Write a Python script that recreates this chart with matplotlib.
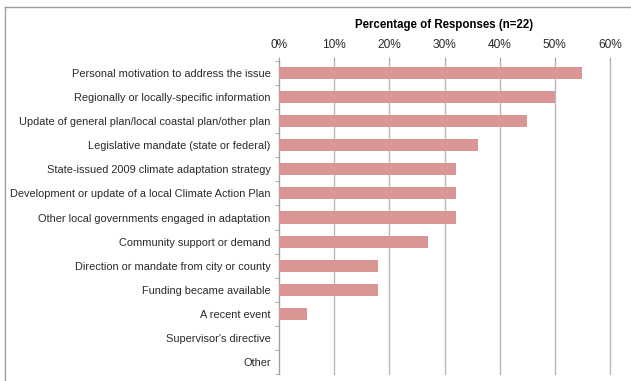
import matplotlib
matplotlib.use("Agg")
import matplotlib.pyplot as plt
import numpy as np

# survey answers, top to bottom
labels = [
    "Personal motivation to address the issue",
    "Regionally or locally-specific information",
    "Update of general plan/local coastal plan/other plan",
    "Legislative mandate (state or federal)",
    "State-issued 2009 climate adaptation strategy",
    "Development or update of a local Climate Action Plan",
    "Other local governments engaged in adaptation",
    "Community support or demand",
    "Direction or mandate from city or county",
    "Funding became available",
    "A recent event",
    "Supervisor's directive",
    "Other",
]
pct = [55, 50, 45, 36, 32, 32, 32, 27, 18, 18, 5, 0, 0]
xticks = [0, 10, 20, 30, 40, 50, 60]

plt.rcParams['font.family'] = ['Liberation Sans', 'DejaVu Sans']

fig = plt.figure(figsize=(6.31, 3.81), dpi=100)
ax = fig.add_axes([279/631, 1 - 374/381, 331/631, 313/381])

# outer frame (top and left only)
fig.add_artist(plt.Line2D([5/631, 1], [1 - 7/381, 1 - 7/381], color='#a0a0a0', lw=1))
fig.add_artist(plt.Line2D([5/631, 5/631], [0, 1 - 7/381], color='#a0a0a0', lw=1))

y = np.arange(len(labels))
ax.barh(y, pct, height=0.5, color='#d99694', zorder=3)
ax.set_ylim(len(labels) - 0.5, -0.5)
ax.set_xlim(0, 60)

ax.xaxis.tick_top()
ax.xaxis.set_label_position('top')
ax.set_xticks(xticks)
ax.set_xticklabels([f"{v}%" for v in xticks], fontsize=8.6, color='#2a2a2a')
ax.set_xlabel("Percentage of Responses (n=22)", fontsize=8.3, fontweight='bold', labelpad=8)
ax.tick_params(axis='x', length=3, color='#a0a0a0', pad=4)

ax.set_yticks(y)
ax.set_yticklabels(labels, fontsize=7.9, color='#2a2a2a')
ax.tick_params(axis='y', length=0, pad=6)
ax.set_yticks(np.arange(len(labels) + 1) - 0.5, minor=True)
ax.tick_params(axis='y', which='minor', length=3, color='#a0a0a0')

ax.grid(axis='x', color='#b8b8b8', lw=1, zorder=0)
for line in ax.get_xgridlines():
    line.set_clip_on(False)
for s in ['top', 'right', 'bottom']:
    ax.spines[s].set_visible(False)
ax.spines['left'].set_color('#a0a0a0')

fig.savefig("out.png", dpi=100)
